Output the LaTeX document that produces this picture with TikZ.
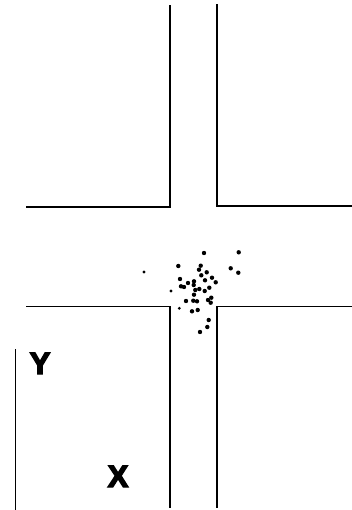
\documentclass[tikz,border=0pt]{standalone}
\usepackage{fontspec}
\setmainfont{Liberation Sans}
\newfontfamily\heavyfont[FakeBold=4.5]{Liberation Sans Bold}
\begin{document}
\begin{tikzpicture}[x=1pt, y=-1pt]
    \useasboundingbox (0,0) rectangle (351,510);
    \tikzset{wall/.style={line width=1.7pt, line cap=rect}, grain/.style={fill=black},
        axislabel/.style={font=\heavyfont\fontsize{31}{31}\selectfont, inner sep=0pt, anchor=north west}}

    % upper channel walls
    \draw[wall] (170,6) -- (170,207) -- (27,207);
    \draw[wall] (217,5) -- (217,206) -- (351,206);

    % lower channel walls
    \draw[wall, line width=1.4pt] (27,306.5) -- (170,306.5) -- (170,507);
    \draw[wall, line width=1.4pt] (351,306.5) -- (217,306.5) -- (217,507);

    % scale bar at the left
    \draw[line width=0.8pt] (15,349) -- (15,510);

    % scattered particles
    \foreach \px/\py in {204/253, 238.7/252.3, 178.3/266, 200.7/265.7, 199/269.7, 230.7/268.3,
        238.3/272.7, 206.7/272.3, 201.3/275.3, 180/279, 212/277.7, 205/280.3, 215.7/282.3,
        188/283, 194/281.3, 193.7/285, 181/286.3, 184/287, 209.3/287.7, 199.3/289, 195.3/290,
        204.7/291, 194/294.7, 211.3/297.7, 208/300, 210.7/302.7, 186/301, 193.3/300.7,
        197/301.3, 192/311.3, 197.7/310, 208.7/320, 207.3/327, 200/332}
        \fill[grain] (\px,\py) circle (2.2pt);
    \foreach \px/\py in {144/272, 171/291, 179.3/308.3}
        \fill[grain] (\px,\py) circle (1.6pt);

    % labels
    \node[axislabel] (labY) at (29.5,352.5) {Y};
    \node[axislabel] (labX) at (107.5,465.5) {X};
\end{tikzpicture}
\end{document}
